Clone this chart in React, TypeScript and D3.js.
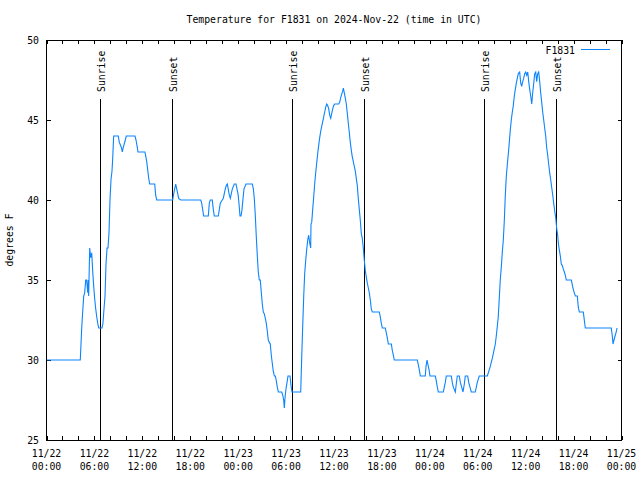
import React from "react";
import * as d3 from "d3";

// hours since 2024-11-22 00:00 UTC
const hours = [
  0.00, 4.23, 4.32, 4.41, 4.53, 4.66, 4.78, 4.91, 5.03, 5.16, 5.23, 5.28, 5.41, 5.53, 5.66, 5.79, 5.91, 6.04, 6.16, 6.29,
  6.41, 6.54, 6.95, 7.07, 7.20, 7.33, 7.45, 7.58, 7.70, 7.83, 7.95, 8.08, 8.20, 8.29, 8.41, 8.99, 9.12, 9.37, 9.49, 9.62,
  9.87, 9.99, 11.08, 11.21, 11.33, 11.46, 12.33, 12.55, 12.67, 12.80, 12.92, 13.55, 13.67, 13.80, 15.80, 15.93, 16.05, 16.18, 16.30, 16.43,
  16.55, 16.80, 19.31, 19.43, 19.56, 19.68, 20.26, 20.39, 20.51, 20.76, 20.89, 21.01, 21.51, 21.64, 21.76, 22.01, 22.14, 22.26, 22.39, 22.51,
  22.64, 22.89, 23.02, 23.14, 23.27, 23.52, 23.73, 23.85, 23.98, 24.10, 24.23, 24.36, 24.48, 24.61, 24.73, 24.98, 25.77, 25.90, 26.02, 26.15,
  26.27, 26.40, 26.52, 26.65, 26.77, 26.90, 27.02, 27.15, 27.27, 27.40, 27.52, 27.65, 27.77, 27.90, 28.02, 28.15, 28.27, 28.40, 28.53, 28.65,
  28.78, 28.90, 29.03, 29.45, 29.58, 29.70, 29.78, 29.86, 29.99, 30.12, 30.24, 30.49, 30.62, 30.74, 31.83, 31.96, 32.08, 32.21, 32.33, 32.46,
  32.58, 32.71, 32.83, 32.96, 33.08, 33.12, 33.21, 33.33, 33.46, 33.58, 33.71, 33.83, 33.96, 34.08, 34.21, 34.34, 34.46, 34.59, 34.71, 34.84,
  34.96, 35.09, 35.21, 35.34, 35.46, 35.59, 35.71, 35.84, 35.96, 36.09, 36.59, 36.71, 36.84, 36.96, 37.09, 37.17, 37.29, 37.42, 37.54, 37.67,
  37.79, 37.92, 38.04, 38.17, 38.29, 38.42, 38.54, 38.67, 38.79, 38.92, 39.04, 39.17, 39.29, 39.42, 39.54, 39.67, 39.79, 39.92, 40.04, 40.17,
  40.30, 40.42, 40.55, 40.67, 40.80, 41.67, 41.80, 41.92, 42.05, 42.42, 42.55, 42.67, 42.80, 43.18, 43.30, 43.43, 43.55, 46.43, 46.56, 46.68,
  46.81, 47.43, 47.52, 47.65, 47.77, 47.90, 48.02, 48.69, 48.81, 48.94, 49.06, 49.69, 49.81, 49.94, 50.06, 50.69, 50.81, 50.94, 51.19, 51.31,
  51.44, 51.69, 51.82, 51.99, 52.15, 52.32, 52.44, 52.74, 52.87, 53.03, 53.19, 53.69, 53.82, 53.94, 54.19, 55.20, 55.32, 55.45, 55.57, 55.82,
  55.95, 56.07, 56.20, 56.32, 56.45, 56.57, 56.70, 56.82, 56.95, 57.07, 57.20, 57.33, 57.45, 57.58, 57.70, 57.83, 57.95, 58.08, 58.20, 58.33,
  58.45, 58.58, 58.70, 58.83, 58.95, 59.08, 59.25, 59.38, 59.50, 59.63, 59.75, 59.88, 60.00, 60.13, 60.26, 60.38, 60.51, 60.63, 60.76, 60.88,
  61.01, 61.13, 61.26, 61.38, 61.51, 61.63, 61.76, 61.88, 62.01, 62.13, 62.26, 62.38, 62.51, 62.63, 62.76, 62.89, 63.01, 63.14, 63.26, 63.39,
  63.51, 63.64, 63.76, 63.89, 64.01, 64.09, 64.21, 64.34, 64.46, 64.59, 64.71, 64.84, 64.96, 65.09, 65.72, 65.84, 65.97, 66.09, 66.22, 66.47,
  66.59, 66.72, 67.22, 67.34, 67.47, 70.72, 70.85, 70.94, 71.06, 71.19, 71.31, 71.44,
];

// temperature, degrees F
const temps = [
  30, 30, 31, 32, 33, 34, 34.2, 35, 35, 34.2, 35, 34, 37, 36.4, 36.7, 35.5, 34.6, 33.8, 33.2, 32.7,
  32.3, 32, 32, 32.3, 33.2, 34, 36, 37, 37, 38, 40, 41.3, 41.8, 42.6, 44, 44, 43.6, 43.3, 43, 43.3,
  43.75, 44, 44, 43.75, 43.4, 43, 43, 42.4, 41.9, 41.35, 41, 41, 40.3, 40, 40, 40.4, 40.7, 41, 40.7, 40.4,
  40.1, 40, 40, 39.8, 39.4, 39, 39, 39.8, 40, 40, 39.4, 39, 39, 39.4, 39.8, 40, 40.1, 40.4, 40.7, 40.9,
  41, 40.3, 40.1, 40.4, 40.7, 41, 41, 40.7, 40.4, 39.8, 39, 39, 39.4, 40.1, 40.7, 41, 41, 40.7, 40.1, 39,
  37.7, 36.5, 35.5, 35, 35, 34.2, 33.5, 33, 32.9, 32.6, 32.3, 31.8, 31.25, 31.1, 31, 30.3, 29.8, 29.3, 29, 29,
  28.7, 28.3, 28, 28, 27.8, 27.5, 27, 27.6, 28.2, 28.6, 29, 29, 28.4, 28, 28, 30.2, 32.1, 34, 35.4, 36.25,
  36.9, 37.5, 37.8, 37.3, 37, 38.5, 38.6, 39.4, 40.2, 41, 41.7, 42.3, 42.9, 43.4, 43.9, 44.3, 44.6, 44.9, 45.2, 45.5,
  45.8, 46, 45.9, 45.7, 45.3, 45.1, 45.4, 45.7, 45.9, 46, 46, 46.1, 46.4, 46.6, 46.8, 47, 46.7, 46.35, 46, 45.4,
  44.8, 44.2, 43.6, 43.1, 42.7, 42.4, 42.1, 41.8, 41.35, 40.9, 40.1, 39.4, 38.75, 37.9, 37.6, 37, 36.25, 35.6, 35.2, 34.8,
  34.5, 34.2, 33.75, 33.2, 33, 33, 32.7, 32.3, 32, 32, 31.7, 31.4, 31, 31, 30.6, 30.3, 30, 30, 29.7, 29.4,
  29, 29, 29.6, 30, 29.7, 29.4, 29, 29, 28.7, 28.3, 28, 28, 28.3, 28.6, 29, 29, 28.6, 28.3, 28, 28.5,
  29, 29, 28.6, 28.3, 28, 28.5, 29, 29, 28.6, 28.3, 28, 28, 28.3, 28.6, 29, 29, 29.2, 29.4, 29.6, 30.1,
  30.4, 30.7, 31, 31.5, 32.1, 32.7, 33.9, 35, 35.8, 36.7, 37.5, 38.75, 40.3, 41.5, 42.2, 42.9, 43.6, 44.4, 45, 45.5,
  45.9, 46.5, 46.9, 47.3, 47.6, 47.9, 48, 47.3, 47.1, 47.4, 47.6, 47.9, 48, 47.8, 48, 47.4, 46.9, 46.5, 46, 46.7,
  47.3, 47.9, 48, 47.4, 47.9, 48, 47.4, 46.7, 46.1, 45.5, 45, 44.5, 44, 43.3, 42.8, 42.2, 41.7, 41.25, 40.8, 40.3,
  39.8, 39.3, 38.9, 38.2, 37.8, 37.3, 36.9, 36.5, 36, 35.9, 35.7, 35.5, 35.3, 35, 35, 34.7, 34.4, 34.2, 34, 34,
  33.3, 33, 33, 32.5, 32, 32, 31.5, 31, 31.25, 31.5, 31.7, 32,
];

const sunriseHours = [6.74, 30.78, 54.82];
const sunsetHours = [15.75, 39.79, 63.86];

const yTicks = [25, 30, 35, 40, 45, 50];
const xLabelHours = [0, 6, 12, 18, 24, 30, 36, 42, 48, 54, 60, 66, 72];
const xLabelDates = ["11/22", "11/22", "11/22", "11/22", "11/23", "11/23", "11/23", "11/23", "11/24", "11/24", "11/24", "11/24", "11/25"];
const xLabelTimes = ["00:00", "06:00", "12:00", "18:00", "00:00", "06:00", "12:00", "18:00", "00:00", "06:00", "12:00", "18:00", "00:00"];

const title = "Temperature for F1831 on 2024-Nov-22 (time in UTC)";
const yLabel = "degrees F";
const seriesName = "F1831";

const W = 640;
const H = 480;
const L = 46.5;
const R = 621.5;
const T = 40;
const B = 440;
const FONT = "'DejaVu Sans Mono', monospace";
const FS = 9.8;
const LINE_COLOR = "#0a84ff";

export default function App() {
  const x = d3.scaleLinear().domain([0, 72]).range([L, R]);
  const y = d3.scaleLinear().domain([25, 50]).range([B, T]);
  const pts: [number, number][] = hours.map((h, i) => [h, temps[i]]);
  const line = d3
    .line<[number, number]>()
    .x((d) => x(d[0]))
    .y((d) => y(d[1]));
  const minorTicks = d3.range(0, 73, 2);
  const px = (v: number) => Math.round(v) + 0.5;

  return (
    <svg
      width={W}
      height={H}
      style={{ position: "absolute", left: 0, top: 0, background: "#fff" }}
      fontFamily={FONT}
      fontSize={FS}
    >
      <rect x={0} y={0} width={W} height={H} fill="#fff" />
      <text x={(L + R) / 2} y={23} textAnchor="middle" fill="#000">
        {title}
      </text>
      <text transform={`translate(13,${(T + B) / 2}) rotate(-90)`} textAnchor="middle" fill="#000">
        {yLabel}
      </text>

      <g shapeRendering="crispEdges">
        {yTicks.map((t) => (
          <g key={"y" + t}>
            <line x1={L} x2={L + 4} y1={y(t)} y2={y(t)} stroke="#000" />
            <line x1={R} x2={R - 4} y1={y(t)} y2={y(t)} stroke="#000" />
          </g>
        ))}
        {minorTicks.map((t) => (
          <g key={"x" + t}>
            <line x1={px(x(t))} x2={px(x(t))} y1={B} y2={B - 4} stroke="#000" />
            <line x1={px(x(t))} x2={px(x(t))} y1={T} y2={T + 4} stroke="#000" />
          </g>
        ))}
        {sunriseHours.concat(sunsetHours).map((h) => (
          <line key={"v" + h} x1={px(x(h))} x2={px(x(h))} y1={99} y2={B} stroke="#000" />
        ))}
      </g>

      {yTicks.map((t) => (
        <text key={"yl" + t} x={39} y={y(t) + 4} textAnchor="end" fill="#000">
          {t}
        </text>
      ))}
      {xLabelHours.map((h, i) => (
        <g key={"xl" + h}>
          <text x={x(h)} y={457} textAnchor="middle" fill="#000">
            {xLabelDates[i]}
          </text>
          <text x={x(h)} y={470} textAnchor="middle" fill="#000">
            {xLabelTimes[i]}
          </text>
        </g>
      ))}

      {sunriseHours.map((h) => (
        <text key={"sr" + h} transform={`translate(${x(h) + 5},92) rotate(-90)`} fill="#000">
          Sunrise
        </text>
      ))}
      {sunsetHours.map((h) => (
        <text key={"ss" + h} transform={`translate(${x(h) + 5},92) rotate(-90)`} fill="#000">
          Sunset
        </text>
      ))}

      <path d={line(pts) || ""} fill="none" stroke={LINE_COLOR} strokeWidth={1.1} />

      <text x={575} y={53.5} textAnchor="end" fill="#000">
        {seriesName}
      </text>
      <line x1={581} x2={610} y1={49.5} y2={49.5} stroke={LINE_COLOR} strokeWidth={1} shapeRendering="crispEdges" />

      <rect x={L} y={T} width={R - L} height={B - T} fill="none" stroke="#000" shapeRendering="crispEdges" />
    </svg>
  );
}
